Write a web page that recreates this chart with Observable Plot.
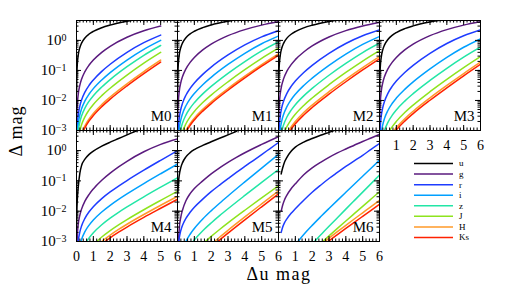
<!DOCTYPE html>
<html><head><meta charset="utf-8">
<script src="https://cdn.jsdelivr.net/npm/d3@7"></script>
<script src="https://cdn.jsdelivr.net/npm/@observablehq/plot@0.6"></script>
<style>
body{margin:0;background:#fff;}
#chart{position:relative;width:505px;height:284px;overflow:hidden;font-family:"Liberation Serif",serif;}
#chart > svg{position:absolute;}
</style></head><body><div id="chart"></div>
<script>
// ---------- data ----------
const bands = ["u","g","r","i","z","J","H","Ks"];
const bandColors = ["#000000","#5a1a7e","#1e3cff","#00a0ff","#22e6a6","#8ee41e","#ff9a28","#ff2200"];
const panelNames = ["M0","M1","M2","M3","M4","M5","M6"];
const xTickLabelsFirst = [0,1,2,3,4,5,6];
const xTickLabelsRest = [1,2,3,4,5,6];
const yTickValues = [0.001,0.01,0.1,1];

// Δ (mag) sampled on a common Δu grid for M0–M3 (null = not drawn)
const xGrid = [0.005,0.02,0.05,0.1,0.2,0.3,0.5,0.75,1,1.5,2,3,4,5,6];
const M0 = [
  [0.0174,0.0685,0.166,0.316,0.58,0.813,1.21,1.63,2.0,2.65,3.23,4.31,5.34,6.35,null],
  [0.00075,0.00303,0.00765,0.0156,0.0325,0.0507,0.0913,0.151,0.222,0.401,0.636,1.272,2.085,3.0,null],
  [null,0.00061,0.00154,0.00315,0.00659,0.01035,0.0189,0.0321,0.0483,0.0933,0.161,0.401,0.84,1.5,null],
  [null,0.00031,0.00078,0.0016,0.00335,0.00526,0.00965,0.0164,0.0248,0.0483,0.0847,0.222,0.505,1.0,null],
  [null,null,0.00045,0.00092,0.00193,0.00304,0.00558,0.0095,0.0144,0.0281,0.0496,0.133,0.319,0.68,null],
  [null,null,0.00023,0.00047,0.00099,0.00155,0.00285,0.00485,0.00736,0.01446,0.0256,0.0702,0.175,0.40,null],
  [null,null,null,0.000238,0.000498,0.000785,0.00144,0.00245,0.00372,0.00732,0.013,0.036,0.0917,0.22,null],
  [null,null,null,0.000202,0.000424,0.000667,0.001225,0.00208,0.00316,0.00623,0.01107,0.0307,0.0784,0.19,null]
];
const M1 = [
  [0.0179,0.0704,0.170,0.324,0.594,0.829,1.23,1.65,2.02,2.67,3.26,4.34,5.37,6.4,7.4],
  [0.00094,0.00377,0.00952,0.0194,0.0403,0.0628,0.113,0.185,0.270,0.481,0.749,1.443,2.29,3.23,4.20],
  [null,0.00048,0.00121,0.00248,0.00519,0.00816,0.01494,0.0253,0.0382,0.0741,0.129,0.327,0.708,1.311,2.10],
  [null,null,0.000538,0.0011,0.00231,0.00363,0.00666,0.01131,0.0171,0.0335,0.059,0.158,0.372,0.775,1.40],
  [null,null,0.000264,0.00054,0.00113,0.00178,0.00327,0.00556,0.00844,0.01657,0.0294,0.0802,0.198,0.448,0.90],
  [null,null,null,0.000277,0.00058,0.000912,0.00168,0.00285,0.00432,0.00851,0.01512,0.0418,0.106,0.252,0.551],
  [null,null,null,null,0.000345,0.000543,0.000997,0.0017,0.00258,0.00507,0.00902,0.025,0.0642,0.157,0.36],
  [null,null,null,null,0.000301,0.000473,0.00087,0.00148,0.00225,0.00442,0.00787,0.0219,0.0562,0.138,0.32]
];
const M2 = [
  [0.0169,0.0666,0.161,0.308,0.568,0.796,1.189,1.605,1.97,2.617,3.20,4.28,5.31,6.33,7.33],
  [0.00078,0.00313,0.0079,0.0161,0.0335,0.0523,0.0942,0.156,0.229,0.412,0.652,1.297,2.115,3.03,4.0],
  [null,0.00055,0.0014,0.00287,0.0060,0.00945,0.0173,0.0293,0.0442,0.0855,0.148,0.371,0.788,1.426,2.24],
  [null,null,0.000504,0.00103,0.00216,0.0034,0.00624,0.0106,0.0161,0.0315,0.0554,0.148,0.352,0.74,1.35],
  [null,null,0.000227,0.000464,0.000973,0.00153,0.00281,0.00478,0.00725,0.01425,0.0252,0.0692,0.172,0.395,0.81],
  [null,null,null,0.000221,0.000463,0.00073,0.00134,0.00228,0.00346,0.00681,0.01209,0.0335,0.0855,0.206,0.46],
  [null,null,null,null,0.000269,0.000423,0.000777,0.00132,0.00201,0.00396,0.00703,0.0196,0.0504,0.124,0.29],
  [null,null,null,null,0.000223,0.000351,0.000645,0.0011,0.00167,0.00328,0.00584,0.0162,0.042,0.104,0.246]
];
const M3 = [
  [0.0144,0.057,0.139,0.268,0.501,0.710,1.077,1.474,1.828,2.46,3.04,4.11,5.14,6.15,7.16],
  [0.00094,0.00377,0.00952,0.0194,0.0403,0.0628,0.113,0.185,0.270,0.481,0.749,1.443,2.29,3.23,4.20],
  [null,0.00055,0.0014,0.00287,0.0060,0.00945,0.0173,0.0293,0.0442,0.0855,0.148,0.371,0.788,1.426,2.24],
  [null,null,0.000375,0.000767,0.00161,0.00253,0.00464,0.0079,0.012,0.0234,0.0414,0.112,0.272,0.592,1.13],
  [null,null,null,0.000309,0.000648,0.00102,0.00187,0.00318,0.00484,0.00951,0.0169,0.0465,0.118,0.278,0.60],
  [null,null,null,null,0.000269,0.000423,0.000777,0.00132,0.00201,0.00396,0.00703,0.0196,0.0504,0.124,0.29],
  [null,null,null,null,null,0.000264,0.000484,0.000824,0.00125,0.00247,0.00439,0.01223,0.0317,0.079,0.19],
  [null,null,null,null,null,0.000219,0.000403,0.000686,0.00104,0.00205,0.00366,0.01019,0.0264,0.0662,0.16]
];
// M4–M6: [Δu, Δ] pairs per band
const M4 = [
  [[0.003,0.001],[0.01,0.004],[0.02,0.009],[0.05,0.025],[0.1,0.06],[0.2,0.18],[0.3,0.32],[0.5,0.52],[0.75,0.75],[1,0.96],[1.5,1.4],[2,1.9],[2.5,2.5],[3,3.3],[3.5,4.3],[4,5.5]],
  [[0.02,0.000686],[0.05,0.00174],[0.1,0.00356],[0.2,0.00745],[0.3,0.01169],[0.5,0.02138],[0.75,0.0361],[1,0.0544],[1.5,0.1049],[2,0.180],[2.5,0.290],[3,0.444],[4,0.913],[5,1.60],[6,2.445]],
  [[0.05,0.000491],[0.1,0.001],[0.2,0.002075],[0.3,0.003229],[0.5,0.005803],[0.75,0.009601],[1,0.01413],[1.5,0.02607],[2,0.04317],[2.5,0.06769],[3,0.1029],[4,0.2257],[5,0.478],[6,0.997]],
  [[0.1,0.000363],[0.2,0.000752],[0.3,0.001172],[0.5,0.002106],[0.75,0.00348],[1,0.005122],[1.5,0.00944],[2,0.01563],[2.5,0.02449],[3,0.03718],[4,0.08138],[5,0.1721],[6,0.358]],
  [[0.3,0.000447],[0.5,0.000803],[0.75,0.001323],[1,0.001943],[1.5,0.003565],[2,0.005865],[2.5,0.009134],[3,0.01378],[4,0.02976],[5,0.062],[6,0.127]],
  [[0.75,0.000528],[1,0.000772],[1.5,0.001405],[2,0.002292],[2.5,0.003537],[3,0.005283],[4,0.01117],[5,0.02275],[6,0.04554]],
  [[1,0.000552],[1.5,0.001],[2,0.001624],[2.5,0.002496],[3,0.003712],[4,0.007772],[5,0.01567],[6,0.03104]],
  [[1,0.000452],[1.5,0.000817],[2,0.001324],[2.5,0.002027],[3,0.003004],[4,0.00624],[5,0.01248],[6,0.0247]]
];
const M5 = [
  [[0.02,0.04],[0.05,0.08],[0.1,0.15],[0.2,0.28],[0.3,0.4],[0.5,0.62],[0.75,0.86],[1,1.08],[1.5,1.48],[2,1.95],[2.5,2.55],[3,3.3],[3.5,4.3]],
  [[0.03,0.0004],[0.06,0.001],[0.1,0.0025],[0.2,0.0065],[0.3,0.011],[0.5,0.022],[0.75,0.038],[1,0.056],[1.5,0.1],[2,0.17],[2.5,0.27],[3,0.41],[3.5,0.6],[4,0.85],[5,1.6],[6,2.9]],
  [[0.03,0.0004],[0.08,0.001],[0.15,0.0018],[0.25,0.0029],[0.35,0.004],[0.5,0.0058],[0.75,0.0092],[1,0.0135],[1.5,0.025],[2,0.044],[2.5,0.073],[3,0.118],[3.5,0.19],[4,0.3],[4.5,0.47],[5,0.74],[5.5,1.17],[6,1.85]],
  [[0.3,0.000537],[0.5,0.001],[0.75,0.001733],[1,0.002683],[1.5,0.005514],[2,0.01028],[2.5,0.0183],[3,0.03179],[4,0.0927],[5,0.2651],[6,0.7533]],
  [[0.75,0.00073],[1,0.001119],[1.5,0.00225],[2,0.004095],[2.5,0.007107],[3,0.01202],[4,0.03309],[5,0.0892],[6,0.2383]],
  [[1.5,0.000825],[2,0.00147],[2.5,0.002491],[3,0.00411],[4,0.01074],[5,0.0274],[6,0.06925]],
  [[2,0.000799],[2.5,0.001386],[3,0.002344],[4,0.006454],[5,0.0174],[6,0.0465]],
  [[2,0.000642],[2.5,0.001114],[3,0.001884],[4,0.005187],[5,0.01398],[6,0.03736]]
];
const M6 = [
  [[0.16,0.17],[0.25,0.27],[0.36,0.42],[0.5,0.6],[0.75,0.95],[1,1.3],[1.5,1.9],[2,2.5],[2.5,3.2],[3,4.0],[3.5,5.0]],
  [[0.16,0.01],[0.25,0.016],[0.36,0.024],[0.5,0.034],[0.75,0.055],[1,0.08],[1.5,0.16],[2,0.27],[2.5,0.41],[3,0.6],[3.5,0.84],[4,1.13],[4.5,1.5],[5,2.0],[5.5,2.6],[6,3.4]],
  [[0.16,0.002],[0.25,0.003],[0.36,0.0042],[0.5,0.0056],[0.75,0.0085],[1,0.012],[1.5,0.023],[2,0.042],[2.5,0.072],[3,0.12],[3.5,0.19],[4,0.3],[4.5,0.46],[5,0.7],[5.5,1.1],[6,1.7]],
  [[1,0.000779],[1.5,0.001705],[2,0.003407],[2.5,0.006528],[3,0.01226],[3.5,0.0228],[4,0.04214],[4.5,0.07768],[5,0.1429],[5.5,0.2628],[6,0.483]],
  [[2,0.000824],[2.5,0.001632],[3,0.00317],[3.5,0.0061],[4,0.01169],[4.5,0.02234],[5,0.04263],[5.5,0.08127],[6,0.155]],
  [[2.5,0.000858],[3,0.001534],[3.5,0.002709],[4,0.00475],[4.5,0.008294],[5,0.01446],[5.5,0.02517],[6,0.04379]],
  [[2.5,0.000774],[3,0.001287],[3.5,0.002107],[4,0.00342],[4.5,0.00552],[5,0.00887],[5.5,0.01425],[6,0.02284]],
  [[2.5,0.000641],[3,0.00105],[3.5,0.00169],[4,0.0027],[4.5,0.00428],[5,0.00676],[5.5,0.01066],[6,0.01678]]
];

// ---------- build tables ----------
function fromGrid(rows){ return rows.map(ys => xGrid.map((x,k)=>[x, ys[k]])); }
const panelSeries = [fromGrid(M0), fromGrid(M1), fromGrid(M2), fromGrid(M3), M4, M5, M6];
function toTable(series){
  const t = [];
  series.forEach((pts,bi)=>pts.forEach(([x,y])=>{ if (y != null) t.push({band:bands[bi], x, y}); }));
  return t;
}

// ---------- layout ----------
const colLeft = [76,177,278,379];
const rowTop = [20,130];
const rowH = [110,111];
const PW = 101;
const layout = [
  {col:0,row:0,yAxis:true,xLabels:null},
  {col:1,row:0,yAxis:false,xLabels:null},
  {col:2,row:0,yAxis:false,xLabels:null},
  {col:3,row:0,yAxis:false,xLabels:xTickLabelsRest},
  {col:0,row:1,yAxis:true,xLabels:xTickLabelsFirst},
  {col:1,row:1,yAxis:false,xLabels:xTickLabelsRest},
  {col:2,row:1,yAxis:false,xLabels:xTickLabelsRest}
];
const xMajor = d3.range(0,7,1);
const xMinor = d3.range(0,6.001,0.2);
const yMinor = [];
[0.001,0.01,0.1,1].forEach(d=>{ for(let k=1;k<10;k++){ const v=d*k; if (v<=4.6) yMinor.push(v);} });

const chart = document.getElementById("chart");

// overlay: axis titles + legend
const overlay = d3.select(chart).append("svg")
  .attr("width",505).attr("height",284).style("left","0px").style("top","0px")
  .style("font-family","'Liberation Serif',serif");
overlay.append("text").attr("transform","translate(22,131) rotate(-90)")
  .attr("text-anchor","middle").attr("font-size",18).attr("letter-spacing",1).text("Δ mag");
overlay.append("text").attr("x",279).attr("y",279.5)
  .attr("text-anchor","middle").attr("font-size",18).attr("letter-spacing",1.5).text("Δu mag");
const legY = d3.scalePoint().domain(bands).range([163.5,237.5]);
bands.forEach((b,i)=>{
  overlay.append("line").attr("x1",414).attr("x2",453).attr("y1",legY(b)).attr("y2",legY(b))
    .attr("stroke",bandColors[i]).attr("stroke-width",1.5);
  overlay.append("text").attr("x",459).attr("y",legY(b)).attr("dy","0.33em")
    .attr("font-size",9).text(b);
});

layout.forEach((L,pi)=>{
  const H = rowH[L.row];
  const ml = L.yAxis ? 62 : 1, mr = 1, mt = 1, mb = L.xLabels ? 26 : 1;
  const marks = [
    Plot.line(toTable(panelSeries[pi]), {x:"x", y:"y", z:"band", stroke:"band", strokeWidth:1.5, curve:"monotone-x", clip:true}),
    Plot.tickX(xMajor, {x:d=>d, insetTop:H-5, stroke:"#000"}),
    Plot.tickX(xMajor, {x:d=>d, insetBottom:H-5, stroke:"#000"}),
    Plot.tickX(xMinor, {x:d=>d, insetTop:H-2.5, stroke:"#000"}),
    Plot.tickX(xMinor, {x:d=>d, insetBottom:H-2.5, stroke:"#000"}),
    Plot.tickY(yTickValues, {y:d=>d, insetRight:PW-5, stroke:"#000"}),
    Plot.tickY(yTickValues, {y:d=>d, insetLeft:PW-5, stroke:"#000"}),
    Plot.tickY(yMinor, {y:d=>d, insetRight:PW-2.5, stroke:"#000"}),
    Plot.tickY(yMinor, {y:d=>d, insetLeft:PW-2.5, stroke:"#000"}),
    Plot.frame({stroke:"#000", strokeWidth:1}),
    Plot.text([panelNames[pi]], {text:d=>d, frameAnchor:"bottom-right", lineAnchor:"middle", dx:-6, dy:-14, fontSize:15})
  ];
  if (L.xLabels) marks.push(Plot.axisX(L.xLabels, {tickSize:0, tickPadding:9.5, label:null, fontSize:14}));
  if (L.yAxis) marks.push(Plot.axisY(yTickValues, {tickSize:0, tickPadding:10, label:null, fontSize:15,
    tickFormat:d=>String(Math.round(Math.log10(d)))}));
  const svg = Plot.plot({
    width: ml+PW+mr, height: mt+H+mb,
    marginLeft: ml, marginRight: mr, marginTop: mt, marginBottom: mb,
    x: {domain:[0,6], axis:null},
    y: {type:"log", domain:[0.001,4.6], axis:null},
    color: {domain:bands, range:bandColors},
    style: {fontFamily:"'Liberation Serif',serif", fontSize:"15px", color:"#000", background:"transparent", overflow:"visible"},
    marks
  });
  svg.style.left = (colLeft[L.col]-ml)+"px";
  svg.style.top = (rowTop[L.row]-mt)+"px";
  svg.style.position = "absolute";
  svg.style.maxWidth = "none";
  chart.appendChild(svg);
  if (L.yAxis){
    d3.select(svg).selectAll('g[aria-label="y-axis tick label"] text').each(function(){
      const e = this.textContent.replace("-","−");
      const t = d3.select(this); t.text(null);
      t.append("tspan").text("10");
      t.append("tspan").attr("dy","-0.45em").attr("font-size","10px").text(e);
    });
  }
});
</script></body></html>
